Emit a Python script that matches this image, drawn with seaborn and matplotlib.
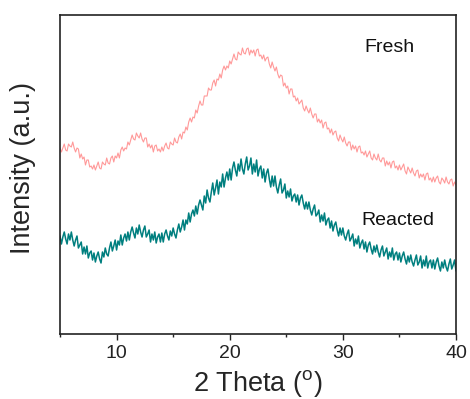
import numpy as np
import pandas as pd
import matplotlib
matplotlib.use("Agg")
import matplotlib.pyplot as plt
from matplotlib.ticker import MultipleLocator
import seaborn as sns

# 2-theta sampling grid (degrees), step 0.125
two_theta = np.arange(281) * 0.125 + 5.0

fresh = [186, 182, 186, 190, 184, 183, 190, 188,
         187, 192, 186, 182, 186, 185, 176, 180,
         175, 177, 169, 174, 174, 167, 168, 165,
         169, 164, 168, 172, 166, 165, 172, 170,
         169, 176, 171, 170, 176, 178, 172, 178,
         176, 181, 176, 184, 187, 183, 186, 185,
         192, 189, 194, 199, 195, 194, 201, 198,
         196, 201, 195, 192, 196, 196, 187, 190,
         186, 189, 182, 188, 189, 183, 185, 182,
         187, 183, 188, 191, 186, 185, 192, 190,
         189, 196, 192, 191, 197, 200, 195, 202,
         201, 207, 204, 212, 216, 212, 217, 216,
         224, 221, 228, 233, 229, 229, 238, 238,
         238, 246, 244, 244, 251, 254, 248, 255,
         254, 260, 256, 264, 268, 264, 268, 266,
         273, 270, 275, 280, 275, 274, 282, 280,
         279, 286, 281, 280, 285, 286, 279, 284,
         281, 284, 278, 284, 285, 278, 279, 275,
         279, 273, 276, 277, 270, 266, 272, 267,
         263, 267, 260, 256, 259, 258, 248, 251,
         246, 248, 240, 245, 245, 237, 238, 233,
         236, 230, 232, 234, 226, 223, 228, 224,
         221, 226, 220, 216, 220, 220, 212, 215,
         211, 214, 206, 211, 212, 205, 206, 201,
         205, 199, 202, 203, 196, 193, 199, 195,
         192, 197, 191, 188, 192, 192, 184, 189,
         185, 188, 182, 187, 188, 181, 182, 179,
         183, 177, 180, 183, 176, 174, 180, 176,
         174, 180, 174, 172, 176, 176, 168, 173,
         169, 172, 166, 172, 173, 166, 168, 164,
         169, 164, 167, 170, 163, 160, 167, 164,
         161, 166, 161, 158, 163, 164, 156, 160,
         157, 160, 154, 160, 161, 154, 156, 152,
         157, 152, 156, 158, 152, 150, 156, 154,
         151, 157, 152, 150, 154, 155, 148, 152,
         149]

reacted = [98, 90, 97, 102, 95, 90, 100, 94,
           102, 94, 88, 94, 98, 86, 89, 92,
           80, 87, 80, 88, 76, 81, 83, 74,
           81, 72, 78, 82, 75, 71, 82, 77,
           86, 80, 78, 86, 92, 83, 88, 94,
           84, 93, 89, 99, 89, 96, 100, 93,
           102, 94, 102, 107, 101, 96, 106, 100,
           109, 102, 97, 104, 108, 97, 100, 104,
           92, 100, 94, 102, 91, 97, 100, 92,
           101, 92, 100, 104, 98, 94, 103, 98,
           106, 100, 96, 104, 110, 102, 107, 114,
           104, 114, 110, 121, 112, 120, 124, 118,
           128, 120, 129, 134, 129, 124, 138, 131,
           144, 136, 132, 142, 151, 139, 146, 154,
           140, 152, 147, 160, 147, 156, 162, 154,
           165, 154, 166, 172, 164, 158, 170, 163,
           175, 165, 160, 170, 177, 164, 168, 176,
           160, 170, 162, 174, 158, 165, 168, 156,
           165, 152, 161, 165, 155, 147, 158, 148,
           158, 147, 141, 149, 155, 141, 144, 150,
           136, 143, 137, 145, 133, 138, 140, 132,
           139, 129, 136, 139, 131, 125, 132, 125,
           132, 124, 119, 125, 129, 118, 120, 124,
           112, 119, 113, 121, 109, 114, 116, 106,
           113, 103, 109, 112, 104, 98, 106, 99,
           106, 98, 94, 100, 104, 93, 96, 100,
           88, 95, 90, 98, 86, 91, 94, 85,
           92, 82, 89, 92, 85, 80, 88, 82,
           89, 82, 77, 84, 88, 78, 82, 86,
           75, 82, 77, 86, 74, 80, 82, 74,
           81, 72, 78, 82, 75, 70, 78, 72,
           79, 72, 68, 74, 79, 69, 72, 78,
           66, 74, 68, 78, 66, 72, 74, 66,
           74, 65, 72, 76, 68, 63, 72, 66,
           74, 67, 63, 70, 75, 65, 69, 74,
           63]

series_names = ["Fresh", "Reacted"]
series_colors = ["#ff8080", "#007f7f"]

sns.set_theme(style="ticks")
plt.rcParams["font.family"] = ["Liberation Sans", "DejaVu Sans"]
plt.rcParams["mathtext.fontset"] = "custom"
plt.rcParams["mathtext.rm"] = "Liberation Sans"

fig = plt.figure(figsize=(4.7, 3.99), dpi=100)
ax = fig.add_axes([0.1277, 0.1629, 0.8425, 0.7995])

df_f = pd.DataFrame({"x": two_theta, "y": fresh})
df_r = pd.DataFrame({"x": two_theta, "y": reacted})
sns.lineplot(data=df_f, x="x", y="y", ax=ax, color=series_colors[0], linewidth=0.8, alpha=0.8)
sns.lineplot(data=df_r, x="x", y="y", ax=ax, color=series_colors[1], linewidth=1.1)

ax.set_xlim(5, 40)
ax.set_ylim(0, 319)
ax.xaxis.set_major_locator(MultipleLocator(10))
ax.xaxis.set_minor_locator(MultipleLocator(5))
ax.set_yticks([])
ax.tick_params(axis="x", which="major", direction="out", length=4, width=1, labelsize=14, colors="#222222", pad=4)
ax.tick_params(axis="x", which="minor", direction="out", length=2.5, width=1, colors="#222222")
for s in ax.spines.values():
    s.set_visible(True)
    s.set_color("#222222")
    s.set_linewidth(1.2)

ax.set_xlabel(r"2 Theta ($\mathregular{^o}$)", fontsize=19.5, labelpad=4)
ax.set_ylabel("Intensity (a.u.)", fontsize=19.5)
ax.yaxis.set_label_coords(-0.06, 0.52)

ax.text(34.1, 287, series_names[0], fontsize=14, ha="center", va="center", color="#111111")
ax.text(34.9, 114, series_names[1], fontsize=14, ha="center", va="center", color="#111111")

fig.savefig("out.png", dpi=100)
